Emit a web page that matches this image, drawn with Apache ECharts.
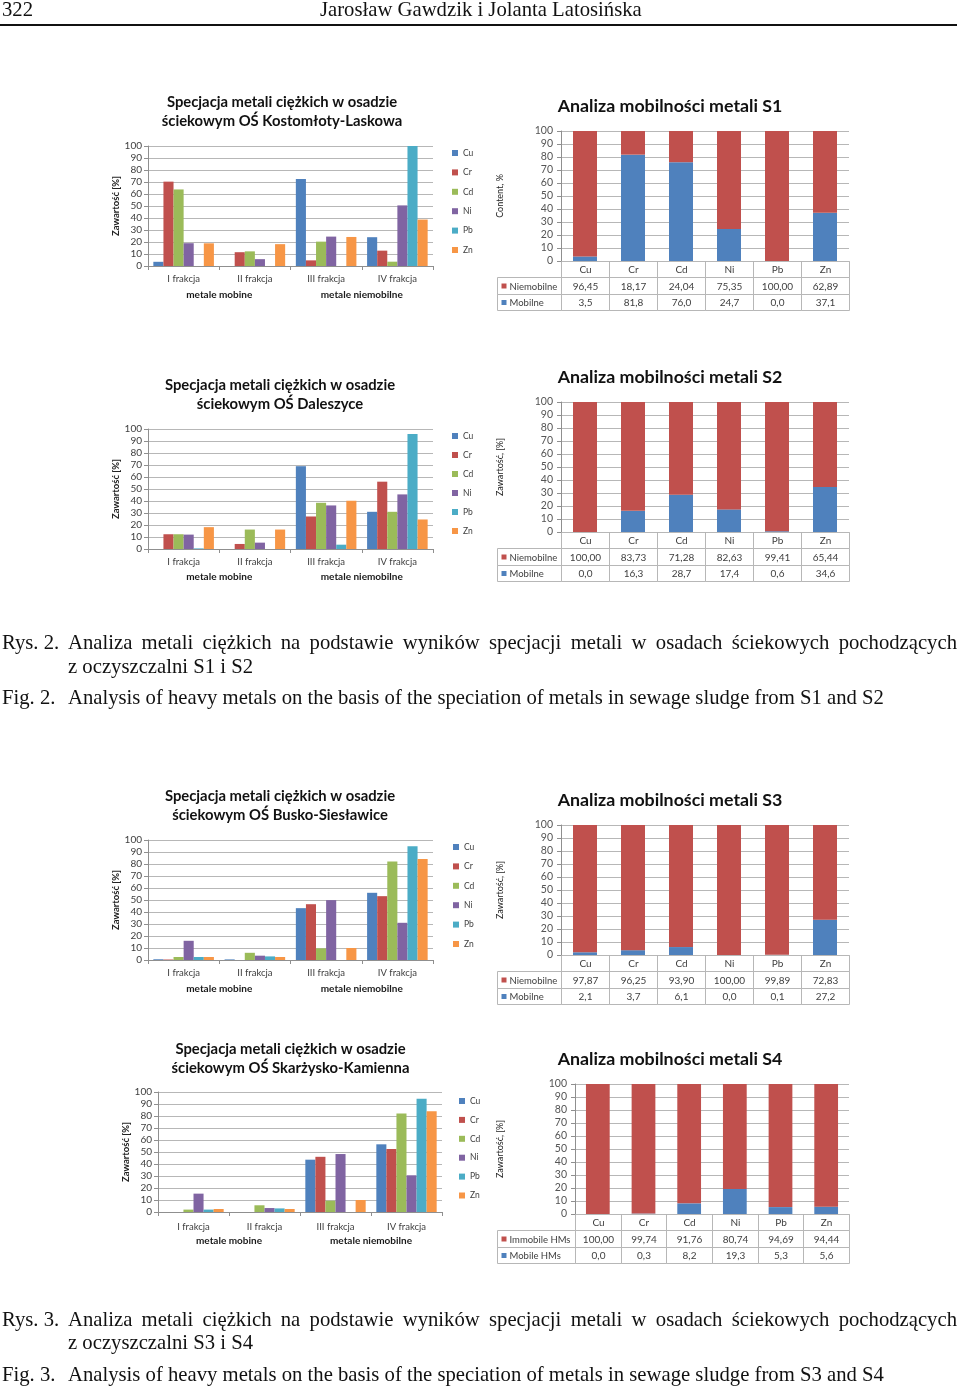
<!DOCTYPE html>
<html lang="pl">
<head>
<meta charset="utf-8">
<title>Specjacja metali ciężkich w osadach ściekowych</title>
<script src="https://cdn.jsdelivr.net/npm/echarts@6.0.0/dist/echarts.min.js"></script>
<style>
html,body{margin:0;padding:0;background:#fff}
body{position:relative;width:960px;height:1388px;overflow:hidden;font-family:"Liberation Serif","Times New Roman",serif;font-size:20.7px;line-height:24px;color:#111}
.t{position:absolute;white-space:nowrap}
.just{white-space:normal;width:889px;text-align:justify;text-align-last:justify}
.rule{position:absolute;left:0;top:23.5px;width:957px;height:2.5px;background:#111}
#chart{position:absolute;left:0;top:0;width:960px;height:1388px}
</style>
</head>
<body>
<div id="chart"></div>

<div class="t" style="left:2px;top:-3px">322</div>
<div class="t" style="left:320px;top:-3px">Jarosław Gawdzik i Jolanta Latosińska</div>
<div class="rule"></div>

<div class="t" style="left:2px;top:630px">Rys. 2.</div>
<div class="t just" style="left:68px;top:630px">Analiza metali ciężkich na podstawie wyników specjacji metali w osadach ściekowych pochodzących</div>
<div class="t" style="left:68px;top:654px">z oczyszczalni S1 i S2</div>
<div class="t" style="left:2px;top:685px">Fig. 2.</div>
<div class="t" style="left:68px;top:685px">Analysis of heavy metals on the basis of the speciation of metals in sewage sludge from S1 and S2</div>

<div class="t" style="left:2px;top:1307px">Rys. 3.</div>
<div class="t just" style="left:68px;top:1307px">Analiza metali ciężkich na podstawie wyników specjacji metali w osadach ściekowych pochodzących</div>
<div class="t" style="left:68px;top:1330px">z oczyszczalni S3 i S4</div>
<div class="t" style="left:2px;top:1362px">Fig. 3.</div>
<div class="t" style="left:68px;top:1362px">Analysis of heavy metals on the basis of the speciation of metals in sewage sludge from S3 and S4</div>

<script>
// ---------- categories / labels ----------
const metals = ['Cu', 'Cr', 'Cd', 'Ni', 'Pb', 'Zn'];
const fractions = ['I frakcja', 'II frakcja', 'III frakcja', 'IV frakcja'];
const fractionGroups = ['metale mobine', 'metale niemobilne'];
const rowLabelsPl = ['Niemobilne', 'Mobilne'];
const rowLabelsEn = ['Immobile HMs', 'Mobile HMs'];

// ---------- speciation (share of metal in fractions I..IV, %) ----------
// OŚ Kostomłoty-Laskowa
const kostomlotyCu = [3.5, 0, 72.4, 24.0];
const kostomlotyCr = [70.3, 11.5, 4.7, 12.8];
const kostomlotyCd = [63.8, 12.2, 20.3, 3.6];
const kostomlotyNi = [19.0, 5.7, 24.5, 50.5];
const kostomlotyPb = [0, 0, 0, 100];
const kostomlotyZn = [18.9, 18.2, 24.2, 38.7];
// OŚ Daleszyce
const daleszyceCu = [0, 0, 69.0, 31.0];
const daleszyceCr = [12.3, 4.2, 27.1, 56.1];
const daleszyceCd = [12.3, 16.2, 38.5, 31.0];
const daleszyceNi = [12.0, 5.3, 36.3, 45.5];
const daleszycePb = [0.5, 0, 3.6, 95.8];
const daleszyceZn = [18.2, 16.2, 40.2, 24.6];
// OŚ Busko-Siesławice
const buskoCu = [0.6, 0.5, 43.2, 56.0];
const buskoCr = [0.4, 0, 46.5, 53.2];
const buskoCd = [2.5, 6.0, 9.7, 82.0];
const buskoNi = [16.0, 3.6, 49.9, 31.0];
const buskoPb = [2.5, 3.0, 0, 94.7];
const buskoZn = [2.5, 2.5, 10.0, 84.2];
// OŚ Skarżysko-Kamienna
const skarzyskoCu = [0, 0, 43.6, 56.4];
const skarzyskoCr = [0, 0, 46.0, 52.5];
const skarzyskoCd = [2.0, 5.6, 9.4, 82.0];
const skarzyskoNi = [15.3, 3.3, 48.3, 30.6];
const skarzyskoPb = [2.0, 3.0, 0, 94.4];
const skarzyskoZn = [2.5, 2.5, 10.0, 83.9];

// ---------- mobility (immobile / mobile, %) ----------
const s1Immobile = [96.45, 18.17, 24.04, 75.35, 100.00, 62.89];
const s1Mobile = [3.5, 81.8, 76.0, 24.7, 0.0, 37.1];
const s2Immobile = [100.00, 83.73, 71.28, 82.63, 99.41, 65.44];
const s2Mobile = [0.0, 16.3, 28.7, 17.4, 0.6, 34.6];
const s3Immobile = [97.87, 96.25, 93.90, 100.00, 99.89, 72.83];
const s3Mobile = [2.1, 3.7, 6.1, 0.0, 0.1, 27.2];
const s4Immobile = [100.00, 99.74, 91.76, 80.74, 94.69, 94.44];
const s4Mobile = [0.0, 0.3, 8.2, 19.3, 5.3, 5.6];

// ---------- styling ----------
const F = 'Lato, "Open Sans", sans-serif';
const metalColors = ['#4F81BD', '#C0504D', '#9BBB59', '#8064A2', '#4BACC6', '#F79646'];
const immobileColor = '#C0504D';
const mobileColor = '#4F81BD';
const gridColor = '#b7b7b7';
const axisColor = '#8f8f8f';
const textColor = '#404040';

const option = {
  animation: false,
  backgroundColor: 'transparent',
  title: [], legend: [], grid: [], xAxis: [], yAxis: [], series: []
};

function addSpeciation(L, titleText, values) {
  const gi = option.grid.length;
  option.grid.push({left: L.left, top: L.top, width: L.width, height: L.height, outerBoundsMode: 'none', containLabel: false});
  option.title.push({
    text: titleText, left: L.titleX, top: L.titleTop, padding: 0, textAlign: 'center',
    textStyle: {fontFamily: F, fontSize: 14.8, fontWeight: 'bold', color: '#111', lineHeight: 19}
  });
  option.legend.push({
    orient: 'vertical', left: L.legendLeft, top: L.legendTop, padding: 0,
    itemWidth: 6, itemHeight: 6, itemGap: L.legendGap, icon: 'rect', selectedMode: false,
    textStyle: {fontFamily: F, fontSize: 8.5, color: textColor, lineHeight: 10},
    data: metals
  });
  const xi = option.xAxis.length;
  option.xAxis.push({
    gridIndex: gi, type: 'category', data: fractions,
    axisLine: {show: true, lineStyle: {color: axisColor}},
    axisTick: {show: true, length: 4, lineStyle: {color: axisColor}},
    axisLabel: {interval: 0, fontFamily: F, fontSize: 9.5, color: textColor, margin: L.labelMargin},
    splitLine: {show: false}
  });
  option.xAxis.push({
    gridIndex: gi, type: 'category', data: fractionGroups, position: 'bottom', offset: L.groupOffset,
    axisLine: {show: false}, axisTick: {show: false}, splitLine: {show: false},
    axisLabel: {interval: 0, fontFamily: F, fontSize: 10, fontWeight: 'bold', color: '#1a1a1a', margin: L.labelMargin}
  });
  const yi = option.yAxis.length;
  option.yAxis.push({
    gridIndex: gi, type: 'value', min: 0, max: 100, interval: 10,
    name: 'Zawartość [%]', nameLocation: 'middle', nameGap: L.nameGap,
    nameTextStyle: {fontFamily: F, fontSize: 9.5, fontWeight: 'bold', color: '#222'},
    axisLine: {show: true, lineStyle: {color: axisColor}},
    axisTick: {show: true, length: 4, lineStyle: {color: axisColor}},
    axisLabel: {fontFamily: F, fontSize: 10, color: textColor, margin: 6},
    splitLine: {show: true, lineStyle: {color: gridColor}}
  });
  metals.forEach((m, k) => {
    option.series.push({
      type: 'bar', name: m, xAxisIndex: xi, yAxisIndex: yi, data: values[k], silent: true,
      barGap: '0%', barCategoryGap: '15%', itemStyle: {color: metalColors[k]}
    });
  });
}

const fmt2 = v => v.toFixed(2).replace('.', ',');
const fmt1 = v => v.toFixed(1).replace('.', ',');

function addMobility(L, titleText, yName, rowLabels, immobile, mobile) {
  const gi = option.grid.length;
  option.grid.push({left: L.left, top: L.top, width: L.width, height: L.height, outerBoundsMode: 'none', containLabel: false});
  option.title.push({
    text: titleText, left: L.titleX, top: L.titleTop, padding: 0, textAlign: 'center',
    textStyle: {fontFamily: F, fontSize: 17.8, fontWeight: 'bold', color: '#111', lineHeight: 21}
  });
  const xi = option.xAxis.length;
  option.xAxis.push({
    gridIndex: gi, type: 'category', data: metals,
    axisLine: {show: true, lineStyle: {color: axisColor}},
    axisTick: {show: false}, axisLabel: {show: false}, splitLine: {show: false}
  });
  const yi = option.yAxis.length;
  option.yAxis.push({
    gridIndex: gi, type: 'value', min: 0, max: 100, interval: 10,
    name: yName, nameLocation: 'middle', nameGap: L.nameGap,
    nameTextStyle: {fontFamily: F, fontSize: 9, color: '#222'},
    axisLine: {show: true, lineStyle: {color: axisColor}},
    axisTick: {show: true, length: 4, lineStyle: {color: axisColor}},
    axisLabel: {fontFamily: F, fontSize: 10.5, color: '#555', margin: 8},
    splitLine: {show: true, lineStyle: {color: gridColor}}
  });
  const stack = 'mob' + gi;
  option.series.push({
    type: 'bar', name: rowLabels[1], stack, xAxisIndex: xi, yAxisIndex: yi, data: mobile, silent: true,
    barWidth: L.barWidth, itemStyle: {color: mobileColor}
  });
  option.series.push({
    type: 'bar', name: rowLabels[0], stack, xAxisIndex: xi, yAxisIndex: yi, data: immobile, silent: true,
    barWidth: L.barWidth, itemStyle: {color: immobileColor}
  });

  // data table under the plot, laid out on its own grid (columns = metals, rows = header + 2 series)
  const colW = L.width / metals.length;
  const labelCols = (L.left - L.tableLeft) / colW;
  const tgi = option.grid.length;
  option.grid.push({left: L.tableLeft, top: L.top + L.height, width: L.left + L.width - L.tableLeft,
                    height: L.tableHeight, outerBoundsMode: 'none', containLabel: false});
  const txi = option.xAxis.length;
  option.xAxis.push({gridIndex: tgi, type: 'value', min: -labelCols, max: metals.length, show: false});
  const tyi = option.yAxis.length;
  option.yAxis.push({gridIndex: tgi, type: 'value', min: 0, max: 3, inverse: true, show: false});

  const cells = [];
  metals.forEach((m, c) => cells.push({x0: c, x1: c + 1, r: 0, text: m}));
  cells.push({x0: -labelCols, x1: 0, r: 1, text: rowLabels[0], swatch: immobileColor});
  immobile.forEach((v, c) => cells.push({x0: c, x1: c + 1, r: 1, text: fmt2(v)}));
  cells.push({x0: -labelCols, x1: 0, r: 2, text: rowLabels[1], swatch: mobileColor});
  mobile.forEach((v, c) => cells.push({x0: c, x1: c + 1, r: 2, text: fmt1(v)}));

  option.series.push({
    type: 'custom', xAxisIndex: txi, yAxisIndex: tyi, silent: true,
    data: cells.map(c => [c.x0, c.x1, c.r]),
    renderItem(params, api) {
      const c = cells[params.dataIndex];
      const p0 = api.coord([api.value(0), api.value(2)]);
      const p1 = api.coord([api.value(1), api.value(2) + 1]);
      const x = Math.round(p0[0]) + 0.5, y = Math.round(p0[1]) + 0.5;
      const w = Math.round(p1[0]) - Math.round(p0[0]);
      const h = Math.round(p1[1]) - Math.round(p0[1]);
      const children = [{
        type: 'rect', shape: {x, y, width: w, height: h},
        style: {fill: 'none', stroke: gridColor, lineWidth: 1}
      }];
      if (c.swatch) {
        children.push({type: 'rect', shape: {x: x + 4, y: y + h / 2 - 2.5, width: 5, height: 5}, style: {fill: c.swatch}});
        children.push({type: 'text', style: {text: c.text, x: x + 12, y: y + h / 2 + 0.5, align: 'left', verticalAlign: 'middle',
                       fontFamily: F, fontSize: 9.5, fill: textColor}});
      } else {
        children.push({type: 'text', style: {text: c.text, x: x + w / 2, y: y + h / 2 + 0.5, align: 'center', verticalAlign: 'middle',
                       fontFamily: F, fontSize: 10, fill: textColor}});
      }
      return {type: 'group', children};
    }
  });
}

// ---------- layouts (page pixels) ----------
const titleSpec = name => 'Specjacja metali ciężkich w osadzie\nściekowym OŚ ' + name;

addSpeciation({left: 148, top: 146, width: 285, height: 120, titleX: 282, titleTop: 92.5,
  legendLeft: 452, legendTop: 148, legendGap: 9.4, labelMargin: 8, groupOffset: 16, nameGap: 27},
  titleSpec('Kostomłoty-Laskowa'),
  [kostomlotyCu, kostomlotyCr, kostomlotyCd, kostomlotyNi, kostomlotyPb, kostomlotyZn]);

addSpeciation({left: 148, top: 429, width: 285, height: 120, titleX: 280, titleTop: 375.5,
  legendLeft: 452, legendTop: 431, legendGap: 9, labelMargin: 8, groupOffset: 15, nameGap: 27},
  titleSpec('Daleszyce'),
  [daleszyceCu, daleszyceCr, daleszyceCd, daleszyceNi, daleszycePb, daleszyceZn]);

addSpeciation({left: 148, top: 840, width: 285, height: 120, titleX: 280, titleTop: 786.5,
  legendLeft: 453, legendTop: 842, legendGap: 9.4, labelMargin: 8, groupOffset: 16, nameGap: 27},
  titleSpec('Busko-Siesławice'),
  [buskoCu, buskoCr, buskoCd, buskoNi, buskoPb, buskoZn]);

addSpeciation({left: 158, top: 1092, width: 284, height: 120, titleX: 290.5, titleTop: 1039.5,
  legendLeft: 459, legendTop: 1096, legendGap: 8.9, labelMargin: 10, groupOffset: 14, nameGap: 26},
  titleSpec('Skarżysko-Kamienna'),
  [skarzyskoCu, skarzyskoCr, skarzyskoCd, skarzyskoNi, skarzyskoPb, skarzyskoZn]);

addMobility({left: 561, top: 131, width: 288, height: 130, titleX: 670, titleTop: 95.5,
  tableLeft: 497, tableHeight: 49, nameGap: 56, barWidth: '50%'},
  'Analiza mobilności metali S1', 'Content, %', rowLabelsPl, s1Immobile, s1Mobile);

addMobility({left: 561, top: 402, width: 288, height: 130, titleX: 670, titleTop: 366.5,
  tableLeft: 497, tableHeight: 49, nameGap: 56, barWidth: '50%'},
  'Analiza mobilności metali S2', 'Zawartość, [%]', rowLabelsPl, s2Immobile, s2Mobile);

addMobility({left: 561, top: 825, width: 288, height: 130, titleX: 670, titleTop: 789.5,
  tableLeft: 497, tableHeight: 49, nameGap: 56, barWidth: '50%'},
  'Analiza mobilności metali S3', 'Zawartość, [%]', rowLabelsPl, s3Immobile, s3Mobile);

addMobility({left: 575, top: 1084, width: 274, height: 130, titleX: 670, titleTop: 1048.5,
  tableLeft: 497, tableHeight: 49, nameGap: 70, barWidth: '52%'},
  'Analiza mobilności metali S4', 'Zawartość, [%]', rowLabelsEn, s4Immobile, s4Mobile);

const chart = echarts.init(document.getElementById('chart'), null, {renderer: 'canvas'});
chart.setOption(option);
</script>
</body>
</html>
